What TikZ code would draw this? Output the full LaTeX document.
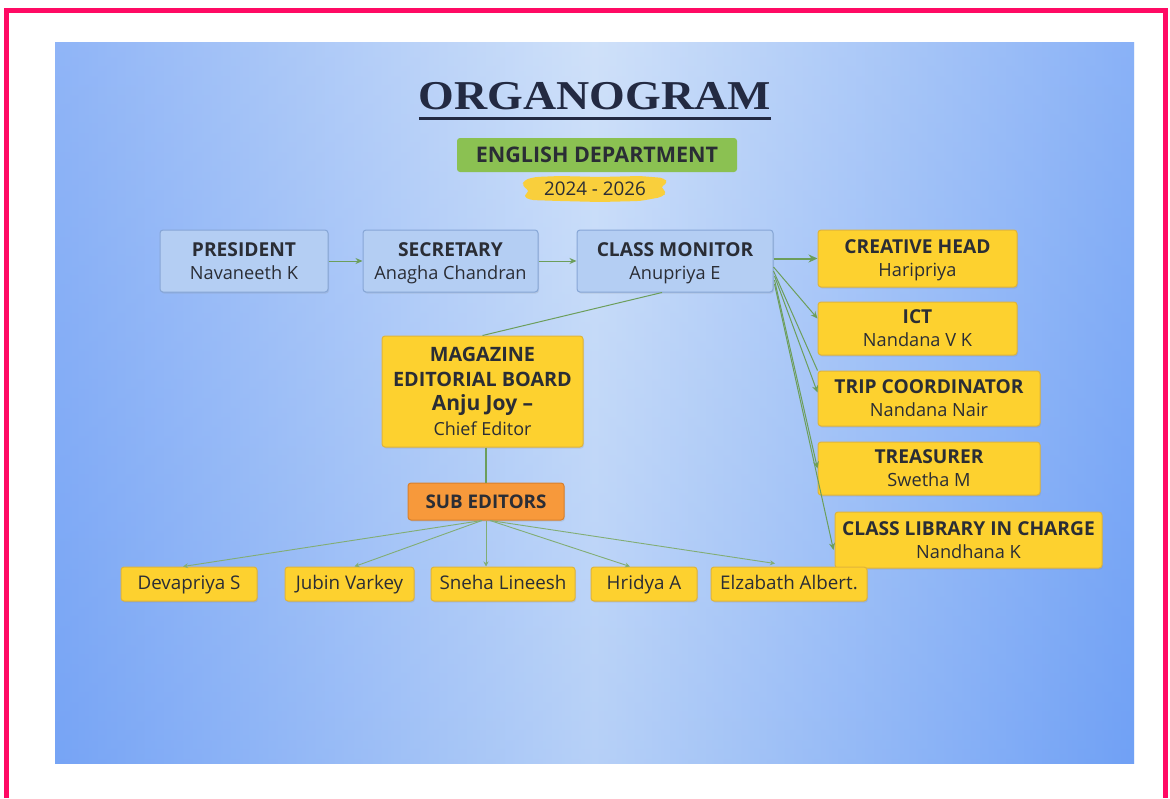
\documentclass[tikz,border=0pt]{standalone}
\usepackage{fontspec}
\setmainfont{Open Sans}
\newfontfamily\titlefont{Liberation Serif}
\usetikzlibrary{arrows.meta,shadows,calc}
\definecolor{pinkframe}{HTML}{FF0A64}
\definecolor{bgedgeL}{HTML}{7AA6F6}
\definecolor{bgedgeR}{HTML}{72A2F6}
\definecolor{bgmid}{HTML}{CCDFF9}
\definecolor{bgtop}{HTML}{DCE9FB}
\definecolor{bgbot}{HTML}{6A9DF3}
\definecolor{titlecol}{HTML}{232A42}
\definecolor{boxblue}{HTML}{B4CEF3}
\definecolor{boxblueedge}{HTML}{86A6D6}
\definecolor{boxyellow}{HTML}{FDD12F}
\definecolor{boxyellowedge}{HTML}{E0B43A}
\definecolor{boxorange}{HTML}{F7993B}
\definecolor{boxorangeedge}{HTML}{D9802C}
\definecolor{deptgreen}{HTML}{8BC152}
\definecolor{brushyellow}{HTML}{F9CF3C}
\definecolor{linegreen}{HTML}{6C9E5B}
\definecolor{textdark}{HTML}{2A2D35}
\tikzset{
  basebox/.style={rounded corners=3pt, line width=1pt, align=center, text=textdark,
    inner sep=2pt, font=\fontsize{18.2}{23}\selectfont,
    drop shadow={opacity=0.18, shadow xshift=1pt, shadow yshift=-1.5pt}},
  bluebox/.style={basebox, fill=boxblue, draw=boxblueedge},
  ybox/.style={basebox, fill=boxyellow, draw=boxyellowedge},
  obox/.style={basebox, fill=boxorange, draw=boxorangeedge},
  nm/.style={font=\fontsize{18.8}{22}\selectfont, text height=13.5pt, text depth=3.5pt},
  conn/.style={draw=linegreen, line width=1pt},
  arr/.style={conn, -{Stealth[length=7pt,width=6pt]}},
  thinarr/.style={draw=linegreen!85!white, line width=0.9pt, -{Stealth[length=5pt,width=5pt]}},
}
\newcommand{\twoline}[2]{\rule{0pt}{18pt}\textbf{\fontsize{19.2}{23}\selectfont #1}\\#2\vphantom{gy}}
\begin{document}
\begin{tikzpicture}[x=1pt,y=-1pt]
\useasboundingbox (0,0) rectangle (1170,798);
\fill[white] (0,0) rectangle (1170,798);
% background panel
\shade[left color=bgedgeL, right color=bgedgeR, middle color=bgmid] (55,42) rectangle (1134,763);
\shade[top color=bgtop, bottom color=bgbot, fill opacity=0.22] (55,42) rectangle (1134,763);
% frame
\draw[pinkframe, line width=5pt] (6,798) -- (6,10) -- (1165,10) -- (1165,798);

% title
\node[inner sep=0pt, text=titlecol, font=\titlefont\bfseries\fontsize{41}{46}\selectfont] (title) at (595,96.5) {\scalebox{1.12}[1]{ORGANOGRAM}};
\draw[titlecol, line width=3pt] ([yshift=-8pt]title.south west) -- ([yshift=-8pt]title.south east);

\node[fill=deptgreen, rounded corners=3pt, minimum width=280pt, minimum height=34pt, inner sep=0pt,
  text=textdark, font=\bfseries\fontsize{21.5}{24}\selectfont] (dept) at (597,155) {ENGLISH DEPARTMENT};

% brush highlight
\fill[brushyellow, rounded corners=4pt] (524,180) -- (535,177) -- (560,176) -- (600,177) -- (640,176) -- (664,178) -- (668,183)
  -- (660,187) -- (667,192) -- (662,197) -- (640,201) -- (600,202) -- (560,201) -- (530,200) -- (523,196) -- (530,191) -- (522,186) -- cycle;
\node[inner sep=0pt, text=textdark, font=\fontsize{18.8}{22}\selectfont] (years) at (595,189) {2024 - 2026};

% top row
\node[bluebox, minimum width=168pt, minimum height=62pt] (pres) at (244,261) {\twoline{PRESIDENT}{Navaneeth K}};
\node[bluebox, minimum width=175pt, minimum height=62pt] (sec) at (450.5,261) {\twoline{SECRETARY}{Anagha Chandran}};
\node[bluebox, minimum width=196pt, minimum height=62pt] (mon) at (675,261) {\twoline{CLASS MONITOR}{Anupriya E}};

% right column
\node[ybox, minimum width=199pt, minimum height=57pt] (cre) at (917.5,258.5) {\twoline{CREATIVE HEAD}{Haripriya}};
\node[ybox, minimum width=199pt, minimum height=53pt] (ict) at (917.5,328.5) {\twoline{ICT}{Nandana V K}};
\node[ybox, minimum width=222pt, minimum height=55pt] (trip) at (929,398.5) {\twoline{TRIP COORDINATOR}{Nandana Nair}};
\node[ybox, minimum width=222pt, minimum height=53pt] (tre) at (929,468.5) {\twoline{TREASURER}{Swetha M}};
\node[ybox, minimum width=267pt, minimum height=56pt] (lib) at (968.5,540) {\twoline{CLASS LIBRARY IN CHARGE}{Nandhana K}};

% magazine
\node[ybox, minimum width=201pt, minimum height=111pt, font=\fontsize{18}{24.5}\selectfont] (mag) at (482.5,391.5)
  {\textbf{\fontsize{19.8}{24.5}\selectfont MAGAZINE}\\\textbf{\fontsize{19.8}{24.5}\selectfont EDITORIAL BOARD}\\\textbf{\fontsize{21}{24.5}\selectfont Anju Joy --}\\Chief Editor};
\node[obox, minimum width=156pt, minimum height=37pt, font=\bfseries\fontsize{18.8}{22}\selectfont] (sub) at (486,501.5) {SUB EDITORS};

% sub editors
\node[ybox, nm, minimum width=136pt, minimum height=34pt] (dev) at (189,584) {Devapriya S};
\node[ybox, nm, minimum width=129pt, minimum height=34pt] (jub) at (349.5,584) {Jubin Varkey};
\node[ybox, nm, minimum width=144pt, minimum height=34pt] (sne) at (503,584) {Sneha Lineesh};
\node[ybox, nm, minimum width=106pt, minimum height=34pt] (hri) at (644,584) {Hridya A};
\node[ybox, nm, minimum width=156pt, minimum height=34pt] (elz) at (789,584) {Elzabath Albert.};

% connectors top row
\draw[arr] (pres.east) -- (sec.west);
\draw[arr] (sec.east) -- (mon.west);
\draw[conn, line width=2pt, -{Stealth[length=9pt,width=8pt]}] (mon.east |- cre.west) -- (cre.west);
\coordinate (f1) at ($(mon.east)+(0,6)$);
\coordinate (f2) at ($(mon.east)+(0,10)$);
\coordinate (f3) at ($(mon.east)+(1,15)$);
\coordinate (f4) at ($(mon.east)+(1,19)$);
\coordinate (f5) at ($(mon.east)+(1,23)$);
\draw[arr] (f1) -- ($(ict.west)+(0,-10)$);
\draw[conn] (f2) -- (trip.north west);
\draw[arr] (f3) -- ($(trip.west)+(0,-6)$);
\draw[arr] (f4) -- (tre.west);
\draw[arr] (f5) -- ($(lib.west)+(-1,10)$);

% magazine links
\draw[conn] ($(mon.south)+(-13,0)$) -- (mag.north);
\draw[conn, line width=1.5pt] (sub.north |- mag.south) -- (sub.north);

% sub editor arrows
\draw[thinarr] ($(sub.south)+(-4,0)$) -- ($(dev.north)+(-6,0)$);
\draw[thinarr] ($(sub.south)+(-4,0)$) -- ($(jub.north)+(5,0)$);
\draw[thinarr] (sub.south) -- (sne.north -| sub.south);
\draw[thinarr] ($(sub.south)+(4,0)$) -- ($(hri.north)+(-14,0)$);
\draw[thinarr] ($(sub.south)+(4,0)$) -- ($(elz.north)+(-14,-3)$);
\end{tikzpicture}
\end{document}
